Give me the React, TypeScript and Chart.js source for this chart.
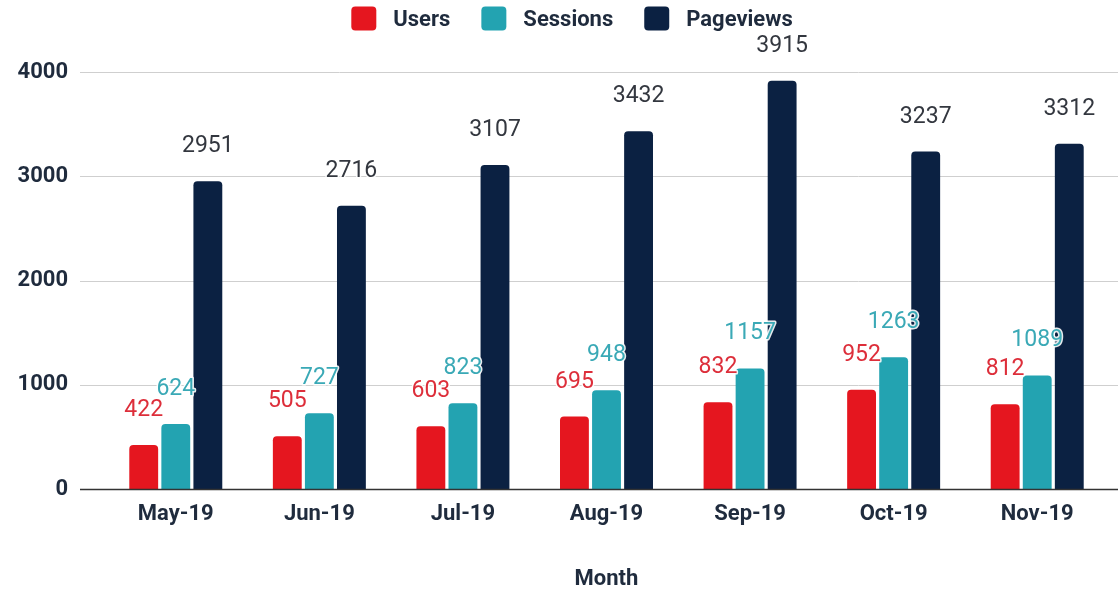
import React, { useEffect, useRef } from "react";
import { Chart, registerables } from "chart.js";

Chart.register(...registerables);

const months = ["May-19", "Jun-19", "Jul-19", "Aug-19", "Sep-19", "Oct-19", "Nov-19"];
const users = [422, 505, 603, 695, 832, 952, 812];
const sessions = [624, 727, 823, 948, 1157, 1263, 1089];
const pageviews = [2951, 2716, 3107, 3432, 3915, 3237, 3312];
const yTicks = [0, 1000, 2000, 3000, 4000];

const seriesNames = ["Users", "Sessions", "Pageviews"];
const barColors = ["#e5161f", "#23a3b1", "#0b2142"];
const labelColors = ["#dd2e3a", "#3aa9b6", "#33373f"];

const FONT = "Roboto, 'Noto Sans', sans-serif";
const TEXT_DARK = "#1f2b3d";

const gridPlugin = {
  id: "customGrid",
  beforeDatasetsDraw(chart: any) {
    const { ctx } = chart;
    const y = chart.scales.y;
    ctx.save();
    y.ticks.forEach((t: any) => {
      if (t.value === 0) return;
      const py = Math.round(y.getPixelForValue(t.value)) + 0.5;
      ctx.strokeStyle = "#cfcfcf";
      ctx.lineWidth = 1;
      ctx.beginPath();
      ctx.moveTo(80, py);
      ctx.lineTo(chart.width, py);
      ctx.stroke();
    });
    ctx.restore();
  },
  afterDatasetsDraw(chart: any) {
    const { ctx } = chart;
    const y = chart.scales.y;
    const py = Math.round(y.getPixelForValue(0)) + 0.5;
    ctx.save();
    ctx.strokeStyle = "#333333";
    ctx.lineWidth = 1.5;
    ctx.beginPath();
    ctx.moveTo(80, py);
    ctx.lineTo(chart.width, py);
    ctx.stroke();
    ctx.restore();
  },
};

const valueLabelPlugin = {
  id: "valueLabels",
  afterDatasetsDraw(chart: any) {
    const { ctx } = chart;
    ctx.save();
    ctx.font = `400 23px ${FONT}`;
    ctx.textAlign = "center";
    ctx.textBaseline = "alphabetic";
    ctx.lineJoin = "round";
    chart.data.datasets.forEach((ds: any, di: number) => {
      const meta = chart.getDatasetMeta(di);
      meta.data.forEach((el: any, i: number) => {
        const text = String(ds.data[i]);
        const x = el.x;
        const yy = el.y - 29;
        ctx.strokeStyle = "rgba(255,255,255,0.9)";
        ctx.lineWidth = 3;
        ctx.strokeText(text, x, yy);
        ctx.fillStyle = labelColors[di];
        ctx.fillText(text, x, yy);
      });
    });
    ctx.restore();
  },
};

const legendPlugin = {
  id: "topLegend",
  afterDraw(chart: any) {
    const { ctx } = chart;
    ctx.save();
    ctx.font = `700 22px ${FONT}`;
    ctx.textBaseline = "middle";
    ctx.textAlign = "left";
    const box = 25;
    const gap = 17;
    const itemGap = 31;
    const items = chart.data.datasets.map((d: any) => ({
      label: d.label,
      color: d.backgroundColor,
      w: ctx.measureText(d.label).width,
    }));
    const total =
      items.reduce((s: number, it: any) => s + box + gap + it.w, 0) + itemGap * (items.length - 1);
    let x = 572 - total / 2;
    const cy = 19;
    items.forEach((it: any) => {
      ctx.fillStyle = it.color;
      ctx.beginPath();
      (ctx as any).roundRect(x, cy - box / 2, box, box - 1, 4);
      ctx.fill();
      ctx.fillStyle = TEXT_DARK;
      ctx.fillText(it.label, x + box + gap, cy + 1);
      x += box + gap + it.w + itemGap;
    });
    ctx.restore();
  },
};

export default function App() {
  const ref = useRef<HTMLCanvasElement | null>(null);

  useEffect(() => {
    if (!ref.current) return;
    const chart = new Chart(ref.current, {
      type: "bar",
      data: {
        labels: months,
        datasets: [users, sessions, pageviews].map((d, i) => ({
          label: seriesNames[i],
          data: d,
          backgroundColor: barColors[i],
          borderRadius: 4,
          borderSkipped: "bottom" as const,
          categoryPercentage: 0.67,
          barPercentage: 0.9,
        })),
      },
      options: {
        animation: false,
        responsive: false,
        maintainAspectRatio: false,
        layout: { padding: { top: 72, right: 9, left: 0, bottom: 0 } },
        plugins: {
          legend: { display: false },
          tooltip: { enabled: false },
        },
        scales: {
          x: {
            grid: { display: false, drawTicks: false },
            border: { display: false },
            ticks: {
              color: TEXT_DARK,
              font: { family: FONT, size: 22, weight: "bold" },
              padding: 12,
            },
            title: {
              display: true,
              text: "Month",
              color: TEXT_DARK,
              font: { family: FONT, size: 22, weight: "bold", lineHeight: 1.05 },
              padding: { top: 4, bottom: 0 },
            },
            afterFit(scale: any) {
              scale.height = 102;
            },
          },
          y: {
            min: yTicks[0],
            max: yTicks[yTicks.length - 1],
            grid: { display: false, drawTicks: false },
            border: { display: false },
            afterBuildTicks(scale: any) {
              scale.ticks = yTicks.map((v) => ({ value: v }));
            },
            ticks: {
              color: TEXT_DARK,
              font: { family: FONT, size: 22, weight: "bold" },
              padding: 36,
              callback: (v: any) => String(v),
            },
            afterFit(scale: any) {
              scale.width = 104;
            },
          },
        },
      },
      plugins: [gridPlugin, valueLabelPlugin, legendPlugin],
    });
    return () => chart.destroy();
  }, []);

  return (
    <div style={{ position: "absolute", left: 0, top: 0, width: 1118, height: 591, background: "#fff" }}>
      <canvas ref={ref} width={1118} height={591} />
    </div>
  );
}
